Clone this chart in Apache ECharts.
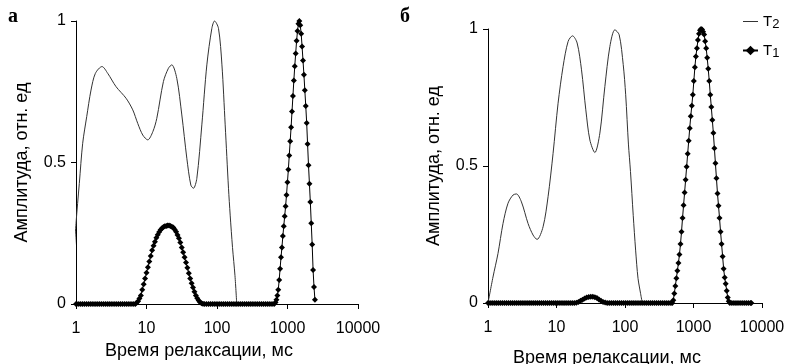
<!DOCTYPE html>
<html>
<head>
<meta charset="utf-8">
<script src="https://cdn.jsdelivr.net/npm/echarts@6/dist/echarts.min.js"></script>
<style>
html,body{margin:0;padding:0;background:#fff;}
#chart{width:788px;height:364px;}
</style>
</head>
<body>
<div id="chart"></div>
<script>
// ---- data: [log10(relaxation time, ms), amplitude] ----
const panelLabels = ['а', 'б'];
const xTitle = 'Время релаксации, мс';
const yTitle = 'Амплитуда, отн. ед';
const xTickLabels = ['1', '10', '100', '1000', '10000'];
const yTickLabels = ['0', '0.5', '1'];
const seriesNames = ['T2', 'T1'];

// panel а, T2 (thin line)
const t2a = [[-0.036,0.15],[0,0.285],[0.047,0.426],[0.095,0.568],[0.152,0.662],[0.213,0.756],[0.275,0.815],[0.369,0.839],[0.45,0.815],[0.568,0.768],[0.71,0.727],[0.805,0.686],[0.876,0.638],[0.947,0.597],[1.018,0.58],[1.09,0.609],[1.146,0.656],[1.24,0.786],[1.311,0.833],[1.359,0.845],[1.43,0.797],[1.501,0.668],[1.572,0.515],[1.629,0.42],[1.666,0.409],[1.714,0.444],[1.785,0.633],[1.856,0.845],[1.927,0.974],[1.965,1.0],[2.021,0.974],[2.07,0.845],[2.116,0.633],[2.163,0.409],[2.187,0.314],[2.22,0.2],[2.255,0.1],[2.28,0]];

// panel а, T1 (line with markers)
const t1a = [
[0,0],[0.03,0],[0.06,0],[0.09,0],[0.12,0],[0.15,0],[0.18,0],[0.21,0],[0.24,0],[0.27,0],[0.30,0],[0.33,0],[0.36,0],[0.39,0],[0.42,0],[0.45,0],[0.48,0],[0.51,0],[0.54,0],[0.57,0],[0.60,0],[0.63,0],[0.66,0],[0.69,0],[0.72,0],[0.75,0],[0.78,0],[0.81,0],
[0.84,0],[0.86,0.004],[0.88,0.01],[0.90,0.019],[0.92,0.03],[0.94,0.05],[0.96,0.07],[0.98,0.09],[1.00,0.11],[1.02,0.13],[1.04,0.15],[1.06,0.17],[1.08,0.19],[1.10,0.206],[1.12,0.22],[1.14,0.234],[1.16,0.245],[1.18,0.254],[1.20,0.262],[1.22,0.268],[1.24,0.272],[1.26,0.275],[1.28,0.276],[1.30,0.277],[1.32,0.277],[1.34,0.276],[1.36,0.273],[1.38,0.27],[1.40,0.263],[1.42,0.255],[1.44,0.244],[1.46,0.232],[1.48,0.217],[1.50,0.2],[1.52,0.183],[1.54,0.165],[1.56,0.147],[1.58,0.128],[1.60,0.109],[1.62,0.09],[1.64,0.073],[1.66,0.058],[1.68,0.043],[1.70,0.03],[1.72,0.02],[1.74,0.012],[1.76,0.006],[1.78,0.003],[1.80,0.001],[1.82,0],
[1.85,0],[1.88,0],[1.91,0],[1.94,0],[1.97,0],[2.00,0],[2.03,0],[2.06,0],[2.09,0],[2.12,0],[2.15,0],[2.18,0],[2.21,0],[2.24,0],[2.27,0],[2.30,0],[2.33,0],[2.36,0],[2.39,0],[2.42,0],[2.45,0],[2.48,0],[2.51,0],[2.54,0],[2.57,0],[2.60,0],[2.63,0],[2.66,0],[2.69,0],[2.72,0],[2.75,0],[2.78,0],[2.81,0],
[2.830,0.005],[2.843,0.015],[2.856,0.03],[2.869,0.05],[2.882,0.085],[2.895,0.125],[2.908,0.165],[2.921,0.2],[2.934,0.24],[2.947,0.275],[2.960,0.31],[2.973,0.345],[2.986,0.385],[2.999,0.43],[3.012,0.475],[3.025,0.525],[3.038,0.575],[3.051,0.625],[3.064,0.68],[3.077,0.735],[3.090,0.79],[3.103,0.84],[3.116,0.885],[3.129,0.93],[3.142,0.965],[3.155,0.99],[3.168,1.0],[3.181,0.985],[3.194,0.955],[3.207,0.91],[3.220,0.86],[3.233,0.81],[3.246,0.755],[3.259,0.70],[3.272,0.64],[3.285,0.565],[3.298,0.49],[3.311,0.425],[3.324,0.36],[3.337,0.285],[3.350,0.21],[3.363,0.12],[3.376,0.06],[3.389,0.015]
];

// panel б, T2 (thin line)
const t2b = [[0,0],[0.073,0.095],[0.146,0.181],[0.219,0.29],[0.292,0.364],[0.365,0.394],[0.415,0.398],[0.488,0.369],[0.585,0.29],[0.658,0.248],[0.716,0.232],[0.804,0.278],[0.877,0.388],[0.95,0.546],[1.023,0.729],[1.096,0.863],[1.17,0.955],[1.234,0.975],[1.301,0.949],[1.365,0.851],[1.428,0.705],[1.487,0.595],[1.56,0.549],[1.633,0.62],[1.706,0.79],[1.779,0.936],[1.852,0.997],[1.915,0.979],[1.974,0.87],[2.01,0.76],[2.05,0.58],[2.08,0.48],[2.12,0.32],[2.155,0.193],[2.19,0.09],[2.228,0.034],[2.252,0]];

// panel б, T1 (line with markers)
const t1b = [
[0,0],[0.03,0],[0.06,0],[0.09,0],[0.12,0],[0.15,0],[0.18,0],[0.21,0],[0.24,0],[0.27,0],[0.30,0],[0.33,0],[0.36,0],[0.39,0],[0.42,0],[0.45,0],[0.48,0],[0.51,0],[0.54,0],[0.57,0],[0.60,0],[0.63,0],[0.66,0],[0.69,0],[0.72,0],[0.75,0],[0.78,0],[0.81,0],[0.84,0],[0.87,0],[0.90,0],[0.93,0],[0.96,0],[0.99,0],[1.02,0],[1.05,0],[1.08,0],[1.11,0],[1.14,0],[1.17,0],[1.20,0],[1.23,0],[1.26,0],
[1.29,0.001],[1.32,0.004],[1.35,0.008],[1.38,0.012],[1.41,0.016],[1.44,0.02],[1.47,0.022],[1.50,0.023],[1.53,0.023],[1.56,0.021],[1.59,0.018],[1.62,0.013],[1.65,0.008],[1.68,0.004],[1.71,0.002],[1.74,0],
[1.77,0],[1.80,0],[1.83,0],[1.86,0],[1.89,0],[1.92,0],[1.95,0],[1.98,0],[2.01,0],[2.04,0],[2.07,0],[2.10,0],[2.13,0],[2.16,0],[2.19,0],[2.22,0],[2.25,0],[2.28,0],[2.31,0],[2.34,0],[2.37,0],[2.40,0],[2.43,0],[2.46,0],[2.49,0],[2.52,0],[2.55,0],[2.58,0],[2.61,0],[2.64,0],[2.67,0],
[2.690,0],[2.705,0.01],[2.720,0.035],[2.735,0.062],[2.750,0.09],[2.765,0.118],[2.780,0.146],[2.795,0.177],[2.810,0.215],[2.825,0.26],[2.840,0.31],[2.855,0.357],[2.870,0.403],[2.885,0.45],[2.900,0.497],[2.915,0.545],[2.930,0.592],[2.945,0.638],[2.960,0.682],[2.975,0.72],[2.990,0.76],[3.005,0.81],[3.020,0.86],[3.035,0.9],[3.050,0.93],[3.065,0.96],[3.080,0.983],[3.095,0.995],[3.110,1.0],[3.125,0.998],[3.140,0.99],[3.155,0.98],[3.170,0.955],[3.185,0.93],[3.200,0.895],[3.215,0.855],[3.230,0.81],[3.245,0.76],[3.260,0.715],[3.275,0.668],[3.290,0.62],[3.305,0.565],[3.320,0.51],[3.335,0.455],[3.350,0.4],[3.365,0.355],[3.380,0.31],[3.395,0.26],[3.410,0.215],[3.425,0.17],[3.440,0.125],[3.455,0.093],[3.470,0.07],[3.485,0.045],[3.500,0.02],[3.515,0.006],[3.530,0],
[3.56,0],[3.59,0],[3.62,0],[3.65,0],[3.68,0],[3.71,0],[3.74,0],[3.77,0],[3.80,0],[3.83,0],[3.845,0]
];

// ---- build ----
const FONT = '"Liberation Sans", Arial, sans-serif';
const toXY = arr => arr.map(p => [Math.pow(10, p[0]), p[1]]);

function xAxisFor(i, nameGap) {
  return {
    type: 'log', logBase: 10, min: 1, max: 10000, gridIndex: i,
    axisLine: { show: true, onZero: false, lineStyle: { color: '#000', width: 1 } },
    axisTick: { show: true, length: 5, lineStyle: { color: '#000' } },
    minorTick: { show: false }, splitLine: { show: false },
    axisLabel: {
      color: '#000', fontFamily: FONT, fontSize: 16, margin: 17,
      formatter: v => xTickLabels[Math.round(Math.log10(v))]
    },
    name: xTitle, nameLocation: 'middle', nameGap: nameGap,
    nameTextStyle: { color: '#000', fontFamily: FONT, fontSize: 18, padding: [0, 36, 0, 0] }
  };
}
function yAxisFor(i) {
  return {
    type: 'value', min: 0, max: 1, interval: 0.5, gridIndex: i,
    axisLine: { show: true, lineStyle: { color: '#000', width: 1 } },
    axisTick: { show: true, length: 5, lineStyle: { color: '#000' } },
    splitLine: { show: false },
    axisLabel: {
      color: '#000', fontFamily: FONT, fontSize: 16, margin: 10,
      formatter: v => yTickLabels[Math.round(v * 2)]
    },
    name: yTitle, nameLocation: 'middle', nameGap: 45, nameRotate: 90,
    nameTextStyle: { color: '#000', fontFamily: FONT, fontSize: 18 }
  };
}
function t2Series(i, data) {
  return {
    name: seriesNames[0], type: 'line', xAxisIndex: i, yAxisIndex: i,
    data: toXY(data), smooth: 0.3, symbol: 'none', clip: false,
    lineStyle: { color: '#333', width: 1 }, itemStyle: { color: '#333' }, z: 2
  };
}
function t1Series(i, data) {
  return {
    name: seriesNames[1], type: 'line', xAxisIndex: i, yAxisIndex: i,
    data: toXY(data), symbol: 'diamond', symbolSize: 6, showSymbol: true, showAllSymbol: true,
    lineStyle: { color: '#000', width: 1 }, itemStyle: { color: '#000' }, z: 3
  };
}

const option = {
  animation: false,
  backgroundColor: '#fff',
  grid: [
    { left: 76, top: 21, width: 282, height: 283, containLabel: false, outerBoundsMode: 'none' },
    { left: 488, top: 29, width: 274, height: 274, containLabel: false, outerBoundsMode: 'none' }
  ],
  xAxis: [xAxisFor(0, 37), xAxisFor(1, 46)],
  yAxis: [yAxisFor(0), yAxisFor(1)],
  legend: {
    orient: 'vertical', left: 737, top: 9, itemWidth: 15, itemHeight: 12, itemGap: 12,
    data: [
      { name: seriesNames[0], icon: 'path://M0,0H15V1H0Z' },
      { name: seriesNames[1] }
    ],
    textStyle: { color: '#000', fontFamily: FONT, fontSize: 15,
      rich: { s: { fontFamily: FONT, fontSize: 13, padding: [6, 0, 0, 0] } } },
    formatter: n => 'T{s|' + n.slice(1) + '}'
  },
  graphic: [
    { type: 'text', left: 8, top: 7, style: { text: panelLabels[0], font: 'bold 20px "Liberation Serif", serif', fill: '#000' } },
    { type: 'text', left: 400, top: 7, style: { text: panelLabels[1], font: 'bold 20px "Liberation Serif", serif', fill: '#000' } }
  ],
  series: [t2Series(0, t2a), t1Series(0, t1a), t2Series(1, t2b), t1Series(1, t1b)]
};

const chart = echarts.init(document.getElementById('chart'), null, { renderer: 'canvas' });
chart.setOption(option);
</script>
</body>
</html>
